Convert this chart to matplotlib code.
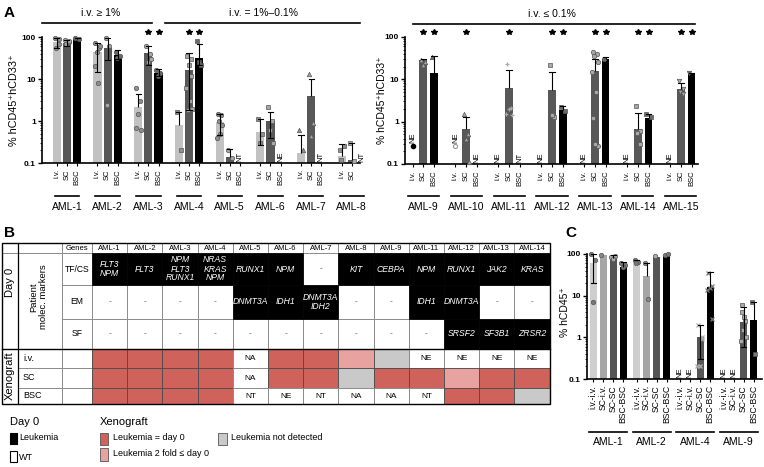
import numpy as np
import matplotlib.pyplot as plt
from matplotlib.patches import Rectangle
from matplotlib.ticker import NullFormatter

plt.rcParams['font.family'] = ['Liberation Sans', 'DejaVu Sans']

W, H = 764, 467

# ---------------- panel A data ----------------
groups_a1 = ['AML-1', 'AML-2', 'AML-3', 'AML-4', 'AML-5', 'AML-6', 'AML-7', 'AML-8']
groups_a2 = ['AML-9', 'AML-10', 'AML-11', 'AML-12', 'AML-13', 'AML-14', 'AML-15']
routes = ['i.v.', 'SC', 'BSC']

mean_a1 = [[75, 72, 88], [45, 55, 38], [2.2, 42, 14], [0.8, 16, 32],
           [0.95, 0.14, None], [0.55, 1.0, None], [0.17, 3.9, None], [0.15, 0.12, None]]
hi_a1 = [[95, 85, 95], [72, 95, 48], [4.5, 61, 17], [1.6, 41, 70],
         [1.5, 0.22, None], [1.14, 1.6, None], [0.46, 10, None], [0.28, 0.3, None]]
lo_a1 = [[55, 60, None], [15, 28, 30], [None, 21, 12], [None, 1.8, 22],
         [0.46, None, None], [0.27, 0.4, None], [None, None, None], [None, None, None]]
pts_a1 = [[[95, 90, 55, 70], [85, 75, 70, 80], [95, 90]],
          [[72, 55, 45, 60, 20, 8], [95, 60, 2.4], [45, 35, 32]],
          [[6, 3, 1.5, 0.6, 0.7], [60, 40, 25, 30], [16, 14, 12]],
          [[1.6, 0.2], [35, 30, 22, 12, 6, 3, 1.8, 1.9], [80, 22, 25]],
          [[1.5, 1.4, 1.0, 0.8, 0.4, 0.5], [0.2, 0.13], []],
          [[1.1, 0.5, 0.3], [2.2, 1.0, 0.6, 0.3], []],
          [[0.6, 0.2], [13, 0.9, 0.45], []],
          [[0.2, 0.25, 0.12], [0.3, 0.11], []]]
miss_a1 = [['', '', ''], ['', '', ''], ['', '', ''], ['', '', ''],
           ['', '', 'NT'], ['', '', 'NE'], ['', '', 'NT'], ['', '', 'NT']]
stars_a1 = [(2, 1), (2, 2), (3, 1), (3, 2)]
markers_a1 = ['o', 'o', 'o', 's', 'o', 's', '^', 's']

mean_a2 = [[None, 28, 14], [None, 0.66, None], [None, 6.4, None], [None, 5.5, 1.9],
           [None, 15.8, 31], [None, 0.66, 1.2], [None, 5.8, 13.7]]
hi_a2 = [[None, 30, 35], [None, 1.3, None], [None, 16.5, None], [None, 15, 2.4],
         [None, 31, 33], [None, 1.6, 1.5], [None, 8.3, 14.5]]
lo_a2 = [[None, None, None]] * 7
pts_a2 = [[[], [28, 25, 22], [33]],
          [[], [1.5, 0.5, 0.4, 0.11], []],
          [[], [23, 2.1, 2.0, 1.4, 1.5], []],
          [[], [22, 1.3, 1.4], [2.2, 1.8]],
          [[], [45, 40, 35, 25, 15, 5, 1.2, 0.26, 0.3], [31]],
          [[], [2.3, 0.6, 0.55, 0.3], [1.5, 1.3]],
          [[], [9, 6, 5, 4.5], [14]]]
miss_a2 = [['NE', '', ''], ['NE', '', 'NE'], ['NE', '', 'NT'], ['NE', '', ''],
           ['NE', '', ''], ['NE', '', ''], ['NE', '', '']]
stars_a2 = [(0, 1), (0, 2), (1, 1), (2, 1), (3, 1), (3, 2), (4, 1), (4, 2),
            (5, 1), (5, 2), (6, 1), (6, 2)]
markers_a2 = ['^', '^', '+', 's', 'o', 's', 'v']

# ---------------- panel C data ----------------
groups_c = ['AML-1', 'AML-2', 'AML-4', 'AML-9']
transfers = ['i.v.-i.v.', 'SC-i.v.', 'SC-SC', 'BSC-BSC']
mean_c = [[60, 95, 80, 50], [70, 30, 85, 90], [None, None, 1.0, 16], [None, None, 2.3, 2.6]]
hi_c = [[100, None, 95, 65], [72, 60, None, None], [None, None, 2.0, 38], [None, None, 5.3, 7]]
lo_c = [[20, None, None, None], [None, None, None, None],
        [None, None, 0.3, None], [None, None, 0.6, None]]
pts_c = [[[100, 70, 7], [95], [85, 90, 75], [60, 55, 50]],
         [[70, 65, 60], [60, 8.5], [90], [95, 100]],
         [[], [], [2, 1, 0.2, 0.9, 0.2], [35, 17, 15, 2.8, 14]],
         [[], [], [6, 2.5, 1.5, 1, 0.8, 3, 4], [7, 0.4]]]
miss_c = [['', '', '', ''], ['', '', '', ''], ['NE', 'NE', '', ''], ['NE', 'NE', '', '']]
markers_c = ['o', 'o', 'x', 's']

# ---------------- panel B data ----------------
table_cols = ['AML-1', 'AML-2', 'AML-3', 'AML-4', 'AML-5', 'AML-6', 'AML-7', 'AML-8',
              'AML-9', 'AML-11', 'AML-12', 'AML-13', 'AML-14']
tfcs = ['FLT3\nNPM', 'FLT3', 'NPM\nFLT3\nRUNX1', 'NRAS\nKRAS\nNPM', 'RUNX1', 'NPM', '-',
        'KIT', 'CEBPA', 'NPM', 'RUNX1', 'JAK2', 'KRAS']
em = ['-', '-', '-', '-', 'DNMT3A', 'IDH1', 'DNMT3A\nIDH2', '-', '-', 'IDH1', 'DNMT3A', '-', '-']
sf = ['-'] * 10 + ['SRSF2', 'SF3B1', 'ZRSR2']
xeno_iv = ['red', 'red', 'red', 'red', 'NA', 'red', 'red', 'pink', 'gray', 'NE', 'NE', 'NE', 'NE']
xeno_sc = ['red', 'red', 'red', 'red', 'NA', 'red', 'red', 'gray', 'red', 'red', 'pink', 'red', 'red']
xeno_bsc = ['red', 'red', 'red', 'red', 'NT', 'NE', 'NT', 'NA', 'NA', 'NT', 'red', 'red', 'gray']

cell_col = {'red': '#d0625c', 'pink': '#e8a3a1', 'gray': '#c9c9c9'}
offs = [-0.2, 0.18, -0.05, 0.24, -0.26, 0.08, -0.14, 0.28, 0.0]

fig = plt.figure(figsize=(W / 100, H / 100), dpi=100)
ov = fig.add_axes([0, 0, 1, 1])
ov.set_xlim(0, W)
ov.set_ylim(H, 0)
ov.axis('off')


def px_axes(x0, y0, x1, y1):
    ax = fig.add_axes([x0 / W, 1 - y1 / H, (x1 - x0) / W, (y1 - y0) / H])
    ax.patch.set_visible(False)
    return ax


def style_log(ax, xsize=5.5):
    ax.set_yscale('log')
    ax.set_ylim(0.1, 100)
    ax.set_yticks([0.1, 1, 10, 100])
    ax.set_yticklabels(['0.1', '1', '10', '100'], fontweight='bold', fontsize=6)
    ax.yaxis.set_minor_formatter(NullFormatter())
    for s in ['top', 'right']:
        ax.spines[s].set_visible(False)
    for s in ['left', 'bottom']:
        ax.spines[s].set_linewidth(1.2)
    ax.tick_params(axis='y', which='major', length=3, width=1, pad=1.5)
    ax.tick_params(axis='y', which='minor', length=1.8, width=0.6)
    ax.tick_params(axis='x', length=2.5, width=0.8, labelsize=xsize, pad=2)


def draw_bars(ax, means, his, los, pts, miss, colors, markers, ptcols, gap, width, labels):
    ticks = []
    for g in range(len(means)):
        for k in range(len(means[g])):
            x = g * gap + k
            ticks.append(x)
            m = means[g][k]
            if m is not None:
                ax.bar(x, m - 0.01, width, bottom=0.01, color=colors[k], zorder=2)
            hi, lo = his[g][k], los[g][k]
            if hi is not None:
                base = lo if lo is not None else m
                ax.vlines(x, base, hi, color='k', lw=0.8, zorder=4)
                ax.plot([x - 0.25, x + 0.25], [hi, hi], color='k', lw=0.8, zorder=4)
                if lo is not None:
                    ax.plot([x - 0.25, x + 0.25], [lo, lo], color='k', lw=0.8, zorder=4)
            mk = markers[g]
            for j, v in enumerate(pts[g][k]):
                if mk in '+x':
                    ax.plot(x + offs[j % len(offs)], v, marker=mk, ms=3.2, mec=ptcols[k],
                            mew=0.9, ls='none', zorder=3, clip_on=False)
                else:
                    ax.plot(x + offs[j % len(offs)], v, marker=mk, ms=3.2, mfc=ptcols[k],
                            mec='#555555', mew=0.5, ls='none', zorder=3, clip_on=False)
            if miss[g][k]:
                ax.text(x, 0.105, miss[g][k], rotation=90, ha='center', va='bottom', fontsize=5.5)
    ax.set_xticks(ticks)
    ax.set_xticklabels(labels * len(means), rotation=90)


def group_lines(ax, groups, gap, n, ext, yline, ylab):
    tr = ax.get_xaxis_transform()
    for g, name in enumerate(groups):
        x0 = g * gap
        ax.plot([x0 - ext, x0 + n - 1 + ext], [yline, yline], color='k', lw=1.2,
                transform=tr, clip_on=False)
        ax.text(x0 + (n - 1) / 2, ylab, name, transform=tr, ha='center', va='center', fontsize=7.5)


bar_cols = ['#c2c2c2', '#585858', '#000000']
pt_cols = ['#8f8f8f', '#a8a8a8', '#6a6a6a']

# ---- A left ----
gap1 = 4
axl = px_axes(42, 37, 360, 163)
style_log(axl)
draw_bars(axl, mean_a1, hi_a1, lo_a1, pts_a1, miss_a1, bar_cols, markers_a1, pt_cols, gap1, 0.8, routes)
axl.set_xlim(-1.45, 29.8)
for g, k in stars_a1:
    axl.plot(g * gap1 + k, 130, marker='*', ms=4, color='k', clip_on=False)
group_lines(axl, groups_a1, gap1, 3, 0.2, -0.262, -0.349)
tr = axl.get_xaxis_transform()
axl.plot([-1.45, 9.4], [1.111, 1.111], color='k', lw=1.2, transform=tr, clip_on=False)
axl.text(4.3, 1.19, 'i.v. \u2265 1%', transform=tr, ha='center', va='center', fontsize=7.5)
axl.plot([10.6, 29.8], [1.111, 1.111], color='k', lw=1.2, transform=tr, clip_on=False)
axl.text(20.3, 1.19, 'i.v. = 1%\u20130.1%', transform=tr, ha='center', va='center', fontsize=7.5)
ov.text(14, 100, '% hCD45\u207ahCD33\u207a', rotation=90, ha='center', va='center', fontsize=7.8)

# ---- A right ----
gap2 = 4
axr = px_axes(405, 37, 698, 164)
style_log(axr)
draw_bars(axr, mean_a2, hi_a2, lo_a2, pts_a2, miss_a2, bar_cols, markers_a2, pt_cols, gap2, 0.7, routes)
axr.set_xlim(-0.7, 26.6)
for g, k in stars_a2:
    axr.plot(g * gap2 + k, 130, marker='*', ms=4, color='k', clip_on=False)
# markers shown with the NE labels of AML-9 and AML-10
for t in axr.texts:
    if abs(t.get_position()[0]) < 0.01 or abs(t.get_position()[0] - gap2) < 0.01:
        t.set_y(0.31)
axr.plot(0, 0.26, marker='o', ms=3, color='k', ls='none', clip_on=False)
axr.plot(gap2, 0.26, marker='o', ms=3, mfc='none', mec='#999999', mew=0.8, ls='none', clip_on=False)
group_lines(axr, groups_a2, gap2, 3, 0.45, -0.252, -0.339)
tr = axr.get_xaxis_transform()
axr.plot([0.0, 26.3], [1.103, 1.103], color='k', lw=1.2, transform=tr, clip_on=False)
axr.text(13.0, 1.18, 'i.v. \u2264 0.1%', transform=tr, ha='center', va='center', fontsize=7.5)
ov.text(382, 100, '% hCD45\u207ahCD33\u207a', rotation=90, ha='center', va='center', fontsize=7.5)

# ---- C ----
gapc = 4.35
axc = px_axes(587, 254, 762, 379)
style_log(axc, xsize=6.2)
draw_bars(axc, mean_c, hi_c, lo_c, pts_c, miss_c, ['#cecece', '#a6a6a6', '#555555', '#000000'],
          markers_c, ['#777777', '#888888', '#aaaaaa', '#777777'], gapc, 0.7, transfers)
axc.set_xlim(-0.6, 16.9)
group_lines(axc, groups_c, gapc, 4, 0.4, -0.424, -0.504)
ov.text(565, 312, '% hCD45\u207a', rotation=90, ha='center', va='center', fontsize=7.5)

# ---- panel letters ----
ov.text(4, 13, 'A', fontsize=11, fontweight='bold', va='center')
ov.text(4, 233, 'B', fontsize=11, fontweight='bold', va='center')
ov.text(565, 233, 'C', fontsize=11, fontweight='bold', va='center')

# ---- B table ----
col_x = [92 + 35.2 * i for i in range(len(table_cols) + 1)]
row_y = [243, 253, 285, 319, 349, 368, 388, 404]
grid = '#8c8c8c'


def cell(x0, y0, x1, y1, face='white', edge=grid, lw=0.7):
    ov.add_patch(Rectangle((x0, y0), x1 - x0, y1 - y0, facecolor=face, edgecolor=edge, lw=lw))


# left columns
cell(2, 243, 18, 253)
cell(18, 243, 62, 253)
cell(62, 243, 92, 253)
ov.text(77, 248, 'Genes', ha='center', va='center', fontsize=5.5)
cell(2, 253, 18, 349)
cell(18, 253, 62, 349)
ov.text(10, 282, 'Day 0', rotation=90, ha='center', va='center', fontsize=8)
ov.text(39, 297, 'Patient\nmolec. markers', rotation=90, ha='center', va='center',
        fontsize=6.8, linespacing=1.1)
for r, name in enumerate(['TF/CS', 'EM', 'SF']):
    cell(62, row_y[r + 1], 92, row_y[r + 2])
    ov.text(77, (row_y[r + 1] + row_y[r + 2]) / 2, name, ha='center', va='center', fontsize=6.2)
cell(2, 349, 18, 404)
ov.text(10, 376, 'Xenograft', rotation=90, ha='center', va='center', fontsize=8)
for r, name in enumerate(['i.v.', 'SC', 'BSC']):
    cell(18, row_y[r + 4], 62, row_y[r + 5])
    cell(62, row_y[r + 4], 92, row_y[r + 5])
    ov.text(23, (row_y[r + 4] + row_y[r + 5]) / 2, name, ha='left', va='center', fontsize=6.5)

# header and marker rows
for i, name in enumerate(table_cols):
    x0, x1 = col_x[i], col_x[i + 1]
    cx = (x0 + x1) / 2
    cell(x0, 243, x1, 253)
    ov.text(cx, 248, name, ha='center', va='center', fontsize=5.5)
    for r, vals in enumerate([tfcs, em, sf]):
        y0, y1 = row_y[r + 1], row_y[r + 2]
        v = vals[i]
        if v == '-':
            cell(x0, y0, x1, y1)
            ov.text(cx, (y0 + y1) / 2, '-', ha='center', va='center', fontsize=6, color='#555555')
for i in range(len(table_cols)):
    x0, x1 = col_x[i], col_x[i + 1]
    cx = (x0 + x1) / 2
    for r, vals in enumerate([tfcs, em, sf]):
        y0, y1 = row_y[r + 1], row_y[r + 2]
        v = vals[i]
        if v != '-':
            cell(x0, y0, x1, y1, face='black', edge='black', lw=0.5)
            ov.text(cx, (y0 + y1) / 2, v, ha='center', va='center', fontsize=6.2,
                    color='white', style='italic', linespacing=1.0)

# xenograft rows
for r, vals in enumerate([xeno_iv, xeno_sc, xeno_bsc]):
    y0, y1 = row_y[r + 4], row_y[r + 5]
    for i, v in enumerate(vals):
        x0, x1 = col_x[i], col_x[i + 1]
        if v in cell_col:
            cell(x0, y0, x1, y1, face=cell_col[v], edge='#4a4a4a', lw=0.6)
        else:
            cell(x0, y0, x1, y1)
            ov.text((x0 + x1) / 2, (y0 + y1) / 2, v, ha='center', va='center', fontsize=6)

ov.add_patch(Rectangle((2, 243), col_x[-1] - 2, 404 - 243, facecolor='none', edgecolor='k', lw=1.0))
ov.plot([2, col_x[-1]], [349, 349], color='k', lw=1.0)
ov.plot([18, 18], [243, 404], color='k', lw=0.9)

# ---- legend ----
ov.text(10, 422, 'Day 0', fontsize=8, va='center')
ov.add_patch(Rectangle((10, 433), 7, 11, facecolor='black', edgecolor='black', lw=0.8))
ov.text(19, 438, 'Leukemia', fontsize=6.5, va='center')
ov.add_patch(Rectangle((10, 451), 7, 11, facecolor='white', edgecolor='black', lw=0.8))
ov.text(19, 457, 'WT', fontsize=6.5, va='center')
ov.text(100, 422, 'Xenograft', fontsize=8, va='center')
ov.add_patch(Rectangle((100, 433), 8, 12, facecolor=cell_col['red'], edgecolor='#555555', lw=0.6))
ov.text(113, 438, 'Leukemia = day 0', fontsize=6.5, va='center')
ov.add_patch(Rectangle((100, 448), 8, 13, facecolor=cell_col['pink'], edgecolor='#555555', lw=0.6))
ov.text(113, 453, 'Leukemia 2 fold \u2264 day 0', fontsize=6.5, va='center')
ov.add_patch(Rectangle((218, 433), 9, 12, facecolor=cell_col['gray'], edgecolor='#555555', lw=0.6))
ov.text(231, 438, 'Leukemia not detected', fontsize=6.5, va='center')

fig.savefig('out.png', dpi=100)
